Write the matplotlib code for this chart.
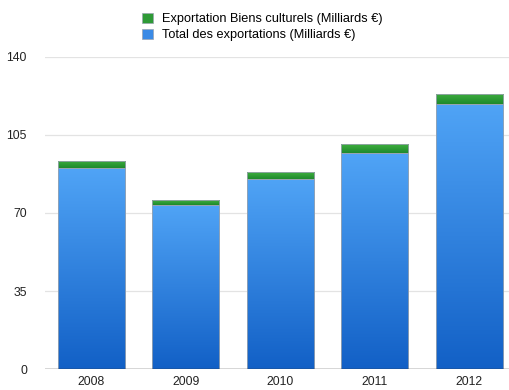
import matplotlib
matplotlib.use("Agg")
import matplotlib.pyplot as plt
import numpy as np
from matplotlib.colors import LinearSegmentedColormap
from matplotlib.patches import Patch

years = ["2008", "2009", "2010", "2011", "2012"]
total_exports = [90.0, 73.6, 85.3, 96.8, 119.0]
cultural_exports = [3.5, 2.2, 3.1, 4.0, 4.6]
yticks = [0, 35, 70, 105, 140]
label_culture = "Exportation Biens culturels (Milliards €)"
label_total = "Total des exportations (Milliards €)"

plt.rcParams['font.family'] = ['Liberation Sans', 'DejaVu Sans']

fig = plt.figure(figsize=(5.1, 3.9), dpi=100)
ax = fig.add_axes([45/510, 1-369/390, 465/510, 312/390])

x = np.arange(len(years))
w = 0.71
blue_cmap = LinearSegmentedColormap.from_list("b", ["#1260C6", "#50A4F6"])
green_cmap = LinearSegmentedColormap.from_list("g", ["#1E8A2C", "#3FAE3F"])

bars_b = ax.bar(x, total_exports, width=w, color="#3A8AE6", edgecolor="#9aa4b0",
                linewidth=0.6, zorder=2)
bars_g = ax.bar(x, cultural_exports, width=w, bottom=total_exports, color="#2E9A36",
                edgecolor="#9aa4b0", linewidth=0.6, zorder=2)

grad = np.linspace(0, 1, 256).reshape(-1, 1)
for bars, cmap in ((bars_b, blue_cmap), (bars_g, green_cmap)):
    for b in bars:
        x0, y0 = b.get_x(), b.get_y()
        bw, bh = b.get_width(), b.get_height()
        im = ax.imshow(grad, cmap=cmap, aspect='auto', origin='lower',
                       extent=[x0, x0 + bw, y0, y0 + bh], zorder=2.5)
        im.set_clip_path(b)
        b.set_facecolor("none")
        b.set_zorder(3)

ax.set_xlim(-0.49, 4.43)
ax.set_ylim(0, 140)
ax.set_yticks(yticks)
ax.set_xticks(x)
ax.set_xticklabels(years)
ax.tick_params(axis='both', length=0, labelsize=8.8, colors="#222222")
ax.tick_params(axis='y', pad=13)
ax.tick_params(axis='x', pad=5)
for yv in yticks[1:]:
    ax.axhline(yv, color="#e3e3e3", linewidth=0.9, zorder=1)
ax.axhline(0, color="#333333", linewidth=1.0, zorder=4)
for s in ax.spines.values():
    s.set_visible(False)

handles = [Patch(facecolor="#2E9A36", edgecolor="#9aa4b0", linewidth=0.5),
           Patch(facecolor="#3A8AE6", edgecolor="#9aa4b0", linewidth=0.5)]
fig.legend(handles, [label_culture, label_total], loc="upper center",
           bbox_to_anchor=(0.515, 0.99), frameon=False, fontsize=9.2,
           handlelength=0.85, handleheight=0.85, handletextpad=0.7,
           labelspacing=0.25, borderaxespad=0.3)

fig.savefig("out.png", dpi=100)
